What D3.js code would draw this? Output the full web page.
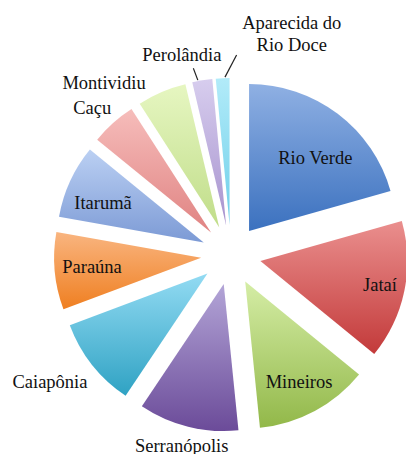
<!DOCTYPE html>
<html>
<head>
<meta charset="utf-8">
<script src="https://cdn.jsdelivr.net/npm/d3@7"></script>
<style>
  html, body { margin: 0; padding: 0; background: #fff; }
  svg { display: block; }
</style>
</head>
<body>
<svg id="chart" width="406" height="454"></svg>
<script>
// Municipalities and their share (%)
const categories = ["Rio Verde", "Jataí", "Mineiros", "Serranópolis", "Caiapônia",
                    "Paraúna", "Itarumã", "Caçu", "Montividiu", "Perolândia", "Aparecida do Rio Doce"];
const values = [20.6, 15.3, 12.5, 11.0, 9.9, 8.5, 8.1, 5.0, 5.4, 2.2, 1.5];

// Label text lines per slice
const labelLines = [["Rio Verde"], ["Jataí"], ["Mineiros"], ["Serranópolis"], ["Caiapônia"],
                    ["Paraúna"], ["Itarumã"], ["Caçu"], ["Montividiu"], ["Perolândia"],
                    ["Aparecida do", "Rio Doce"]];

// Gradient colours (top, bottom) per slice
const topColors = ["#8fb0e3", "#ea8f8e", "#d5eda6", "#b3a5d7", "#93dbf3", "#f9b580",
                   "#bbd0f3", "#f6bdbb", "#e6f6c1", "#d7cdee", "#b2ebf9"];
const bottomColors = ["#3b71bf", "#c33a3a", "#92b849", "#6b4b99", "#2fa2c3", "#ef7f21",
                      "#7c9ad5", "#e08382", "#c0dd89", "#a793ce", "#6ecfe9"];

// Layout
const cx = 231, cy = 255, radius = 147, explode = 30;
// label placement: [angle in degrees clockwise from 12 o'clock, distance from centre]
const labelPlacement = [[41, 128.6], [101.4, 152], [151.8, 144], [194.5, 197], [235, 221],
                        [265, 139.5], [292, 138], [316.6, 202], [323.6, 214], [346.2, 206], [15.4, 229]];
// leader lines for the thin slices: start [angle, dist] from centre, end at a fraction across the slice rim
const leaders = {
  9:  { start: [348.6, 190.5], frac: 0.29 },
  10: { start: [1.6, 200], frac: 0.67 }
};

const FONT = "'Liberation Serif', 'DejaVu Serif', 'Times New Roman', Times, serif";

const svg = d3.select("#chart");
const defs = svg.append("defs");

categories.forEach((c, i) => {
  const g = defs.append("linearGradient")
    .attr("id", "grad" + i)
    .attr("x1", 0).attr("y1", 0).attr("x2", 0).attr("y2", 1);
  g.append("stop").attr("offset", "0%").attr("stop-color", topColors[i]);
  g.append("stop").attr("offset", "100%").attr("stop-color", bottomColors[i]);
});

const pie = d3.pie().sort(null).value(d => d);
const arcs = pie(values);
const arc = d3.arc().innerRadius(0).outerRadius(radius);

const polarRad = (a, r) => [r * Math.sin(a), -r * Math.cos(a)];
const polar = (deg, r) => polarRad(deg * Math.PI / 180, r);

const root = svg.append("g").attr("transform", `translate(${cx},${cy})`);

root.selectAll("path.slice")
  .data(arcs)
  .join("path")
  .attr("class", "slice")
  .attr("transform", d => {
    const [dx, dy] = polarRad((d.startAngle + d.endAngle) / 2, explode);
    return `translate(${dx},${dy})`;
  })
  .attr("d", arc)
  .attr("fill", (d, i) => `url(#grad${i})`);

// leader lines from labels to the small slices
Object.keys(leaders).forEach(k => {
  const i = +k;
  const d = arcs[i];
  const apex = polarRad((d.startAngle + d.endAngle) / 2, explode);
  const a = d.startAngle + leaders[i].frac * (d.endAngle - d.startAngle);
  const rim = polarRad(a, radius + 1);
  const p = polar(leaders[i].start[0], leaders[i].start[1]);
  root.append("line")
    .attr("x1", p[0]).attr("y1", p[1])
    .attr("x2", apex[0] + rim[0]).attr("y2", apex[1] + rim[1])
    .attr("stroke", "#222").attr("stroke-width", 1.2);
});

// labels
const fontSize = 18.5, lineH = 22;
labelLines.forEach((lines, i) => {
  const [ang, dist] = labelPlacement[i];
  const p = polar(ang, dist);
  const t = root.append("text")
    .attr("text-anchor", "middle")
    .attr("font-family", FONT)
    .attr("font-size", fontSize)
    .attr("fill", "#111")
    .attr("x", p[0]).attr("y", p[1] - (lines.length - 1) * lineH / 2 + fontSize * 0.33);
  lines.forEach((s, j) => {
    t.append("tspan").attr("x", p[0]).attr("dy", j === 0 ? 0 : lineH).text(s);
  });
});
</script>
</body>
</html>
